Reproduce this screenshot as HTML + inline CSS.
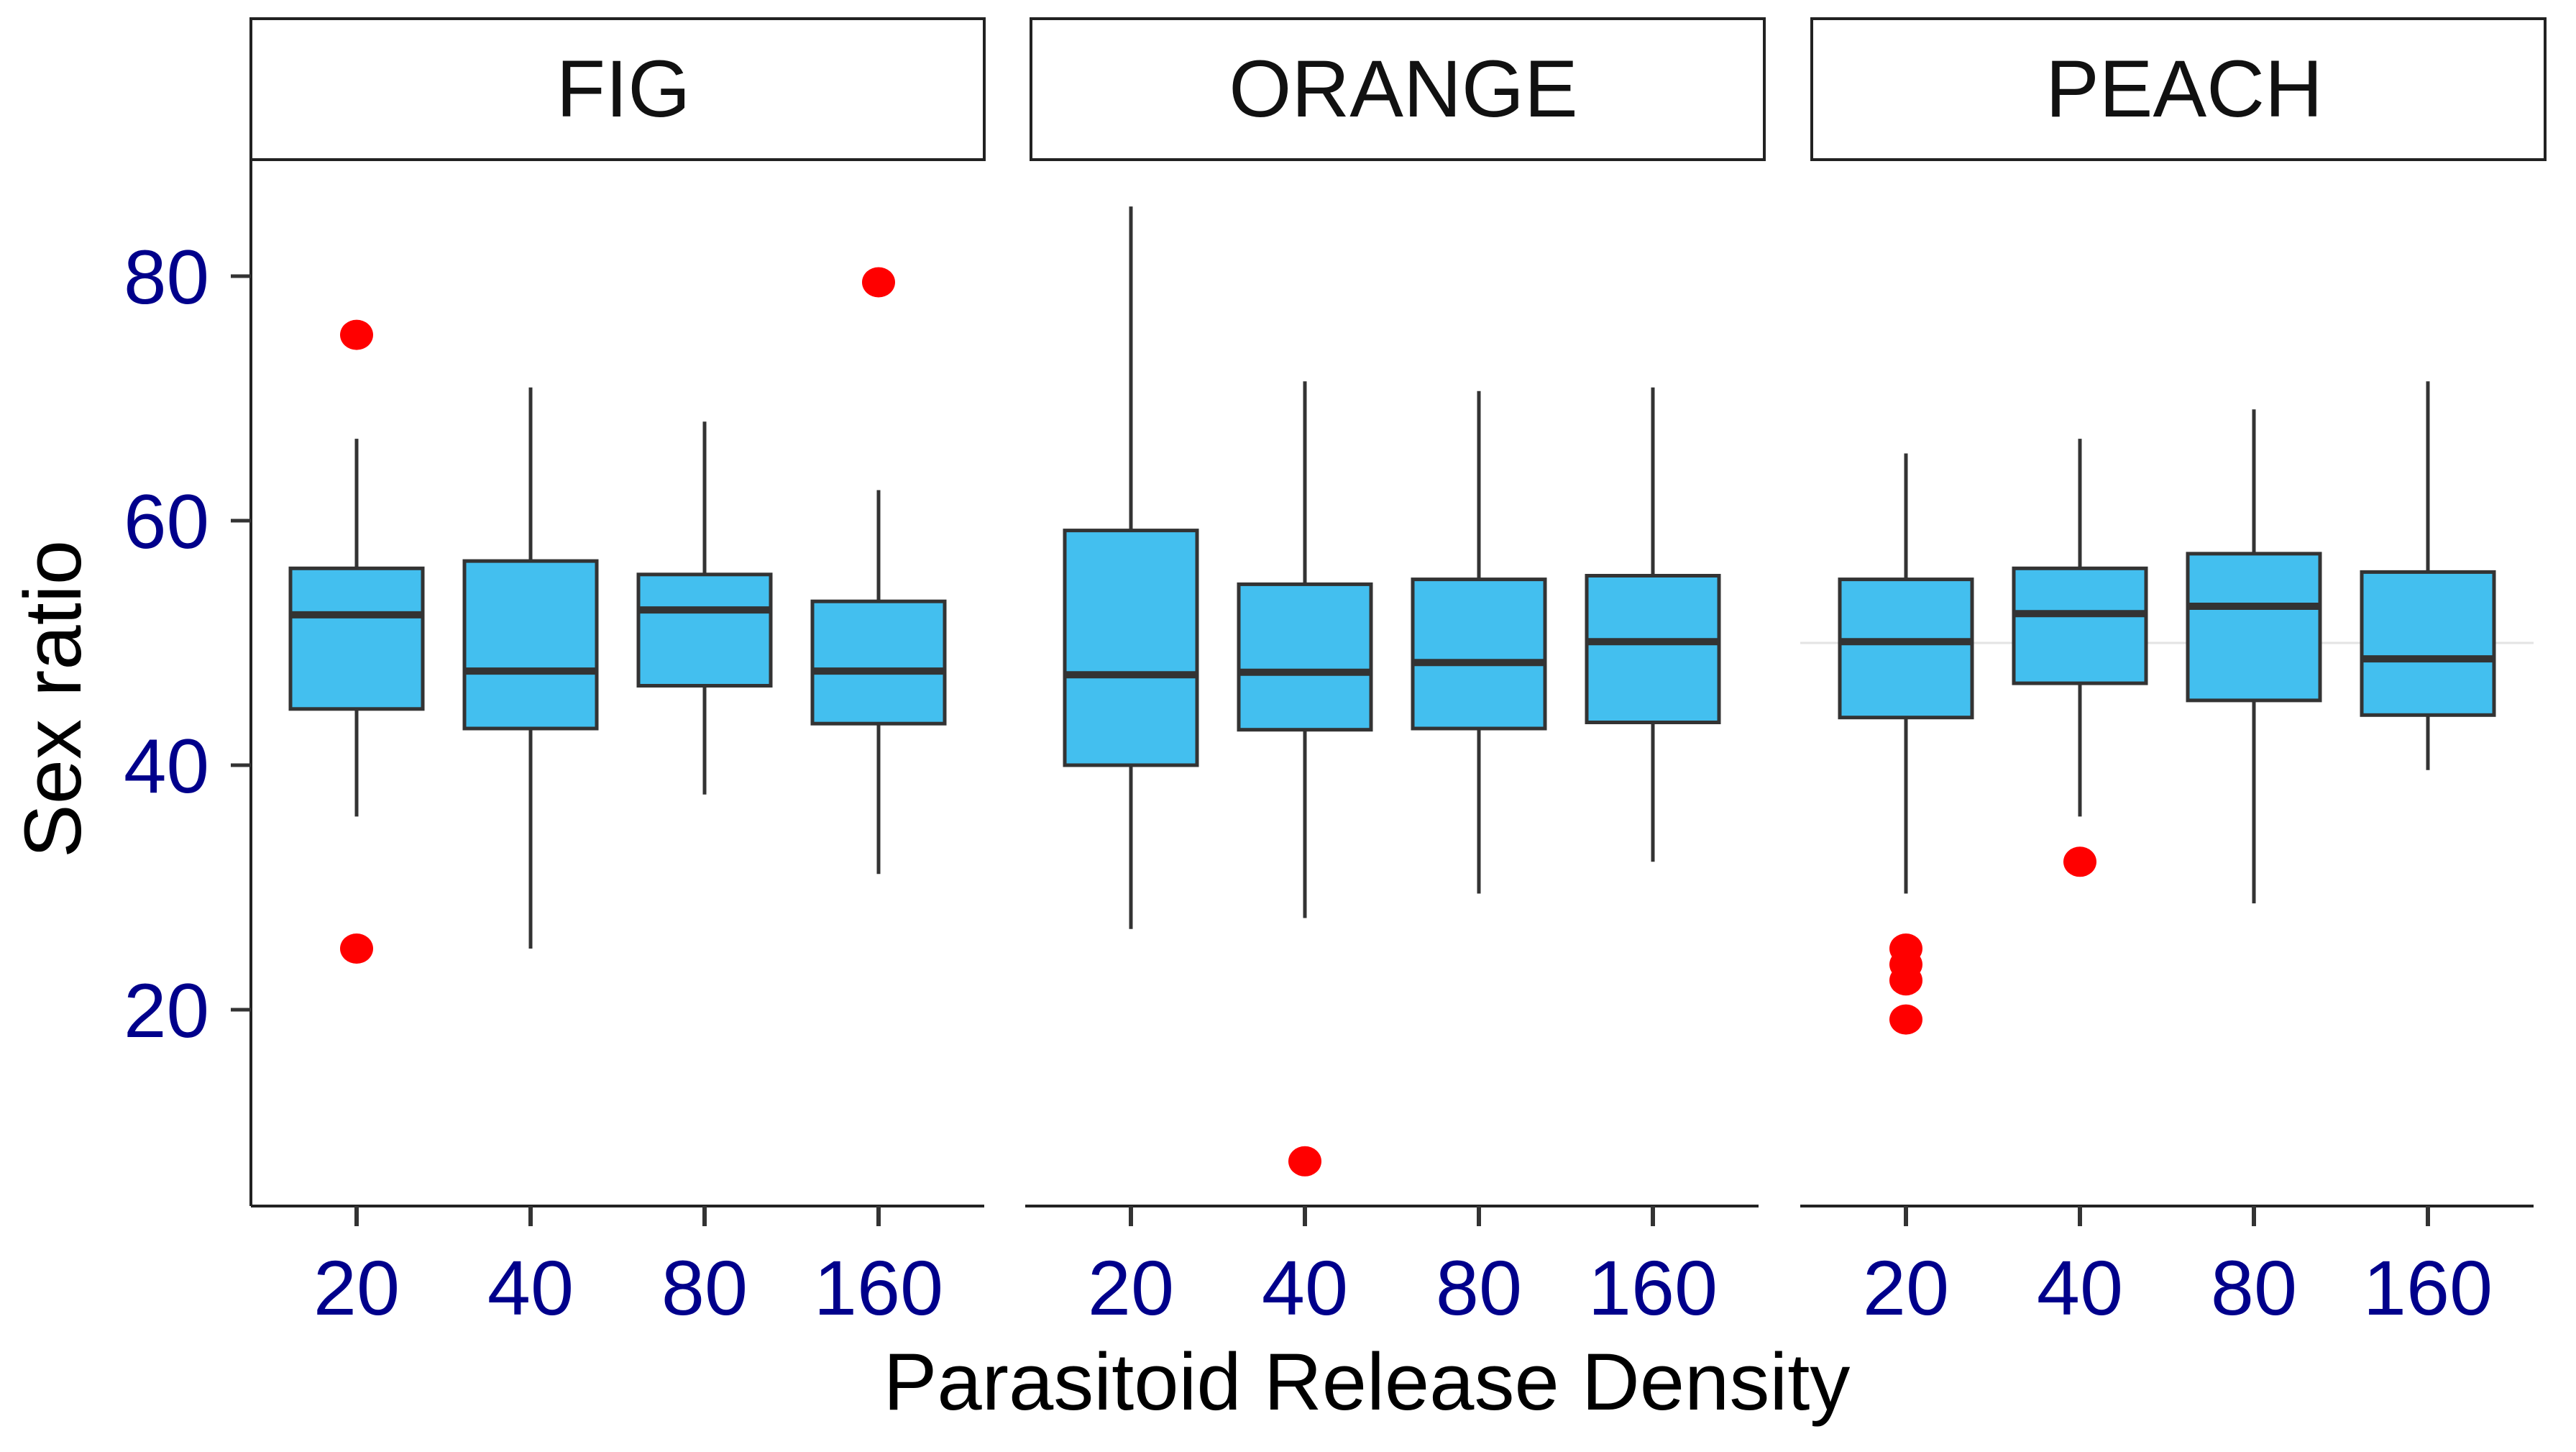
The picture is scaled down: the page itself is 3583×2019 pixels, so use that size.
<!DOCTYPE html>
<html><head><meta charset="utf-8"><style>
html,body{margin:0;padding:0;background:#fff;}
svg{display:block;font-family:"Liberation Sans",sans-serif;}
</style></head><body>
<svg id="chart" width="3583" height="2019" xmlns="http://www.w3.org/2000/svg"></svg>
<script>
const panels = ["FIG","ORANGE","PEACH"];
const categories = ["20","40","80","160"];
const yTicks = [20,40,60,80];
// [low whisker, q1, median, q3, high whisker] per panel/category
const figStats = [[35.8,44.6,52.3,56.1,66.7],[25.0,43.0,47.7,56.7,70.9],[37.6,46.5,52.7,55.6,68.1],[31.1,43.4,47.7,53.4,62.5]];
const orangeStats = [[26.6,40.0,47.4,59.2,85.7],[27.5,42.9,47.6,54.8,71.4],[29.5,43.0,48.4,55.2,70.6],[32.1,43.5,50.1,55.5,70.9]];
const peachStats = [[29.5,43.9,50.1,55.2,65.5],[35.8,46.7,52.4,56.1,66.7],[28.7,45.3,53.0,57.3,69.1],[39.6,44.1,48.7,55.8,71.4]];
const figOutliers = [[75.2,25.0],[],[],[79.5]];
const orangeOutliers = [[],[7.6],[],[]];
const peachOutliers = [[25.0,23.7,22.4,19.2],[32.1],[],[]];
const peachRefLine = 50;

const stats=[figStats,orangeStats,peachStats];
const outs=[figOutliers,orangeOutliers,peachOutliers];
const svg=document.getElementById('chart');
const NS="http://www.w3.org/2000/svg";
const panelLeft=[349,1434,2520], panelW=1020;
const plotShift=[0,-8,-16];
const plotTop=222, plotBottom=1677;
function y(v){return 1744 - v*17.0;}
function x(p,i){return panelLeft[p]+plotShift[p]+panelW/2+(i-1.5)*242;}
function mk(tag,attrs,parent){const e=document.createElementNS(NS,tag);for(const k in attrs)e.setAttribute(k,attrs[k]);(parent||svg).appendChild(e);return e;}

const yAxis=mk('g',{});


mk('line',{x1:349,y1:plotTop,x2:349,y2:plotBottom,stroke:'#222','stroke-width':4},yAxis);
yTicks.forEach(t=>{
  mk('line',{x1:321,y1:y(t),x2:349,y2:y(t),stroke:'#333','stroke-width':5},yAxis);
  const tx=mk('text',{x:291,y:y(t)+38,'text-anchor':'end','font-size':107,fill:'#00008B'},yAxis);
  tx.textContent=t;
  
  
});
const yt=mk('text',{x:0,y:0,transform:'translate(112,972) rotate(-90)','text-anchor':'middle','font-size':112,fill:'#000'});
yt.textContent='Sex ratio';



panels.forEach((name,p)=>{
  const g=mk('g',{});
  
  
  const strip=mk('rect',{x:panelLeft[p],y:26,width:panelW,height:196,fill:'#fff',stroke:'#222','stroke-width':4},g);
  
  
  const st=mk('text',{x:panelLeft[p]+panelW/2+8,y:162,'text-anchor':'middle','font-size':112,fill:'#111'},g);
  st.textContent=name;
  
  
  const pl=panelLeft[p]+plotShift[p];
  if(p===2){
    const rl=mk('line',{x1:pl,y1:y(peachRefLine),x2:pl+panelW,y2:y(peachRefLine),stroke:'#e3e3e3','stroke-width':3},g);
    
    
  }
  mk('line',{x1:pl,y1:plotBottom,x2:pl+panelW,y2:plotBottom,stroke:'#222','stroke-width':4},g);
  categories.forEach((c,i)=>{
    const cx=x(p,i), s=stats[p][i];
    mk('line',{x1:cx,y1:plotBottom,x2:cx,y2:plotBottom+28,stroke:'#333','stroke-width':6},g);
    const tl=mk('text',{x:cx,y:1828,'text-anchor':'middle','font-size':108,fill:'#00008B'},g);
    tl.textContent=c;
    
    
    const bg=mk('g',{},g);
    
    
    mk('line',{x1:cx,y1:y(s[0]),x2:cx,y2:y(s[4]),stroke:'#333','stroke-width':5},bg);
    mk('rect',{x:cx-92,y:y(s[3]),width:184,height:y(s[1])-y(s[3]),fill:'#43BFEF',stroke:'#333','stroke-width':5},bg);
    mk('line',{x1:cx-92,y1:y(s[2]),x2:cx+92,y2:y(s[2]),stroke:'#333','stroke-width':10},bg);
    outs[p][i].forEach(v=>{
      const d=mk('ellipse',{cx:cx,cy:y(v),rx:23,ry:21,fill:'#FF0000'},g);
      
      
    });
  });
});
const xt=mk('text',{x:1901,y:1960,'text-anchor':'middle','font-size':112,fill:'#000'});
xt.textContent='Parasitoid Release Density';


</script>
</body></html>
